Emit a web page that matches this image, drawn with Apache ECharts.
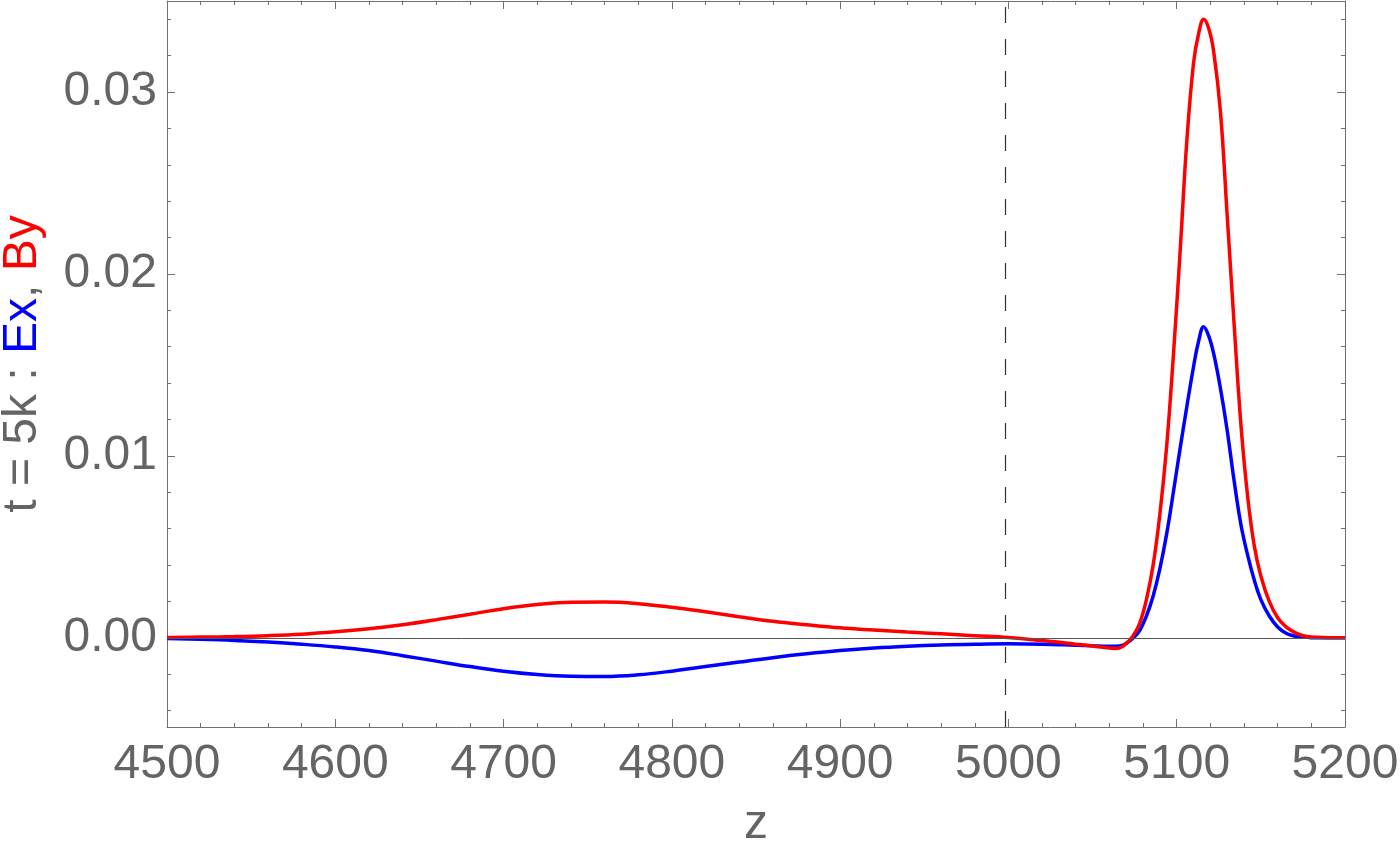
<!DOCTYPE html>
<html>
<head>
<meta charset="utf-8">
<script src="https://cdn.jsdelivr.net/npm/echarts@6/dist/echarts.min.js"></script>
<style>
html,body{margin:0;padding:0;background:#fff;}
#chart{width:1400px;height:858px;}
</style>
</head>
<body>
<div id="chart"></div>
<script>
// ---- data ----
var zValues = [4500,4520,4540,4560,4580,4600,4620,4640,4660,4680,4700,4720,4740,4760,4780,4800,4820,4840,4860,4880,4900,4920,4940,4960,4980,5000,5020,5040,5050,5060,5064,5068,5071,5074,5078,5082,5086,5090,5094,5098,5102,5106,5110,5113,5116,5119,5122,5126,5130,5134,5138,5142,5146,5150,5155,5160,5165,5170,5175,5180,5190,5200];
var ByValues = [0.00002,0.00004,0.00007,0.00012,0.0002,0.00033,0.0005,0.00072,0.001,0.0013,0.0016,0.00183,0.00196,0.00197,0.00188,0.00168,0.00143,0.00116,0.00091,0.00072,0.00055,0.00043,0.00032,0.00022,0.00012,0.00002,-0.00015,-0.00035,-0.00045,-0.00056,-0.00059,-0.00046,-0.00022,0.0001,0.0008,0.0021,0.0040,0.0068,0.0105,0.0155,0.0212,0.0273,0.0316,0.0332,0.0340,0.0335,0.0322,0.0289,0.0232,0.0174,0.0119,0.0079,0.0051,0.0034,0.0020,0.0011,0.0006,0.0003,0.00012,0.00004,0.00001,0];
var ExValues = [-0.00004,-0.00008,-0.00014,-0.00023,-0.00035,-0.0005,-0.0007,-0.00098,-0.00128,-0.00158,-0.00184,-0.00202,-0.00211,-0.00212,-0.00203,-0.00183,-0.00158,-0.00133,-0.00109,-0.00088,-0.0007,-0.00056,-0.00046,-0.00039,-0.00035,-0.00033,-0.00035,-0.00041,-0.00044,-0.00046,-0.00046,-0.0004,-0.00024,-0.00002,0.0004,0.0012,0.0023,0.0038,0.0057,0.0080,0.0104,0.0127,0.0149,0.0163,0.0171,0.0166,0.0156,0.0137,0.0114,0.0087,0.0063,0.0046,0.0032,0.0021,0.0012,0.0006,0.00025,0.0001,0.00004,0.00001,0,0];
var yMajorTicks = [0, 0.01, 0.02, 0.03];
var yMinorTicks = [-0.004,-0.002,0.002,0.004,0.006,0.008,0.012,0.014,0.016,0.018,0.022,0.024,0.026,0.028,0.032,0.034];
var dashedZ = 4998;
var xRange = [4500, 5200];
var yRange = [-0.0049, 0.035];

var gray = '#646464';
var frame = '#707070';
var font = 'Liberation Sans, Arial, Helvetica, sans-serif';

function pairs(xs, ys){ return xs.map(function(x,i){ return [x, ys[i]]; }); }

var chart = echarts.init(document.getElementById('chart'), null, {renderer:'canvas'});

function xAx(pos, labels){
  return {
    type:'value', position:pos, min:xRange[0], max:xRange[1], interval:100,
    name: labels ? 'z' : '', nameLocation:'middle', nameGap:74,
    nameTextStyle:{color:gray, fontSize:48, fontFamily:font},
    axisLine:{show:true, onZero:false, lineStyle:{color:frame, width:1}},
    axisTick:{show:true, inside:true, length:8, lineStyle:{color:frame}},
    minorTick:{show:true, splitNumber:5, length:4, lineStyle:{color:frame}},
    axisLabel:{show:labels, color:gray, fontSize:48, fontFamily:font, margin:14,
               formatter:function(v){ return String(v); }},
    splitLine:{show:false}, minorSplitLine:{show:false}
  };
}
function yAx(pos, major, labels){
  var o = {
    type:'value', position:pos, min:yRange[0], max:yRange[1],
    axisLine:{show:major, onZero:false, lineStyle:{color:frame, width:1}},
    axisTick:{show:true, inside:true, length: major ? 8 : 4, lineStyle:{color:frame},
              customValues: major ? yMajorTicks : yMinorTicks},
    axisLabel:{show:labels, color:gray, fontSize:48, fontFamily:font, margin:10,
               customValues: yMajorTicks,
               formatter:function(v){ return v.toFixed(2); }},
    splitLine:{show:false}
  };
  if (labels) {
    o.name = '{g|t = 5k : }{b|Ex}{g|, }{r|By}';
    o.nameLocation = 'middle';
    o.nameGap = 120;
    o.nameRotate = 90;
    o.nameTextStyle = {fontSize:48, fontFamily:font, rich:{
      g:{color:gray, fontSize:48, fontFamily:font},
      b:{color:'#0000ff', fontSize:48, fontFamily:font},
      r:{color:'#ff0000', fontSize:48, fontFamily:font}
    }};
  }
  return o;
}

var option = {
  backgroundColor:'#fff',
  animation:false,
  grid:{left:167, right:55, top:1, bottom:131, containLabel:false, outerBoundsMode:'none'},
  xAxis:[xAx('bottom', true), xAx('top', false)],
  yAxis:[yAx('left', true, true), yAx('left', false, false), yAx('right', true, false), yAx('right', false, false)],
  series:[
    {
      name:'Ex', type:'line', xAxisIndex:0, yAxisIndex:0,
      data: pairs(zValues, ExValues), showSymbol:false, symbol:'none',
      smooth:0.4, lineStyle:{color:'#0000ff', width:3.5}, z:3,
      markLine:{
        silent:true, symbol:['none','none'], label:{show:false},
        data:[
          {yAxis:0, lineStyle:{color:'#555', width:1, type:'solid'}},
          {xAxis:dashedZ, lineStyle:{color:'#333', width:1.2, type:[16,16]}}
        ]
      }
    },
    {
      name:'By', type:'line', xAxisIndex:0, yAxisIndex:0,
      data: pairs(zValues, ByValues), showSymbol:false, symbol:'none',
      smooth:0.4, lineStyle:{color:'#ff0000', width:3.5}, z:4
    }
  ]
};
chart.setOption(option);
</script>
</body>
</html>
